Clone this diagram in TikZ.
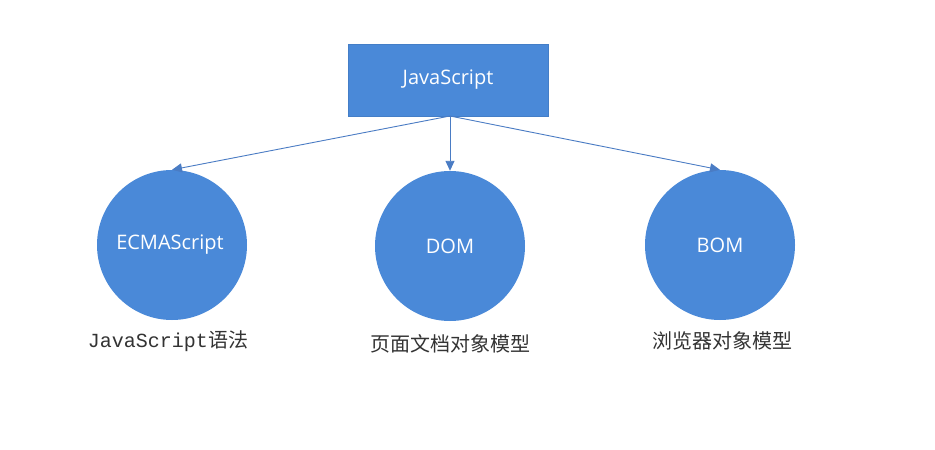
\documentclass[tikz,border=0pt]{standalone}
\usepackage{fontspec}
\setmainfont{Open Sans}
\newfontfamily\cjk{Noto Sans CJK SC}
\newfontfamily\mono{Liberation Mono}
\usetikzlibrary{arrows.meta}
\definecolor{boxblue}{HTML}{4A89D8}
\definecolor{lineblue}{HTML}{4A7CC4}
\definecolor{labelgray}{HTML}{333333}
\begin{document}
\begin{tikzpicture}[x=1pt,y=-1pt,
  topbox/.style={fill=boxblue,draw=boxblue!92!black,line width=0.5pt,minimum width=200pt,minimum height=72pt,inner sep=0pt,text=white,font=\fontsize{20}{24}\selectfont},
  ball/.style={circle,fill=boxblue,minimum size=150pt,inner sep=0pt,text=white,font=\fontsize{20}{24}\selectfont},
  lbl/.style={text=labelgray,font=\cjk\fontsize{20}{24}\selectfont,inner sep=0pt},
  conn/.style={draw=lineblue,line width=0.9pt,-{Triangle[length=10pt,width=9pt]}}]
\useasboundingbox (0,0) rectangle (935,450);
\fill[white] (0,0) rectangle (935,450);
\node[topbox] (js) at (448,80) {JavaScript};
\node[ball] (ecma) at (172,245) {};
\node[text=white,font=\fontsize{20}{24}\selectfont] (ecmat) at (170,245) {ECMAScript};
\node[ball] (dom) at (450,246) {DOM};
\node[ball] (bom) at (720,245) {BOM};
\node[lbl] (l1) at (168,341) {{\mono\fontsize{20}{22}\selectfont JavaScript}语法};
\node[lbl] (l2) at (450,344) {页面文档对象模型};
\node[lbl] (l3) at (722,341) {浏览器对象模型};
\coordinate (s) at (450,116);
\draw[conn] (s) -- (ecma.north);
\draw[conn] (s) -- (dom.north);
\draw[conn] (s) -- (bom.north);
\end{tikzpicture}
\end{document}
